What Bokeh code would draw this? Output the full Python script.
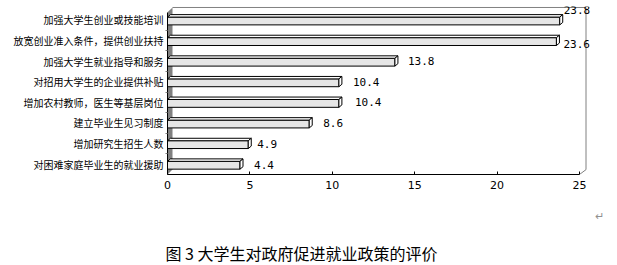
from bokeh.plotting import figure
from bokeh.models import Range1d, FixedTicker, Title, ColumnDataSource
from bokeh.embed import file_html
from bokeh.resources import INLINE
from bokeh.core.properties import value

# ---------------- data ----------------
categories = [
    "加强大学生创业或技能培训",
    "放宽创业准入条件，提供创业扶持",
    "加强大学生就业指导和服务",
    "对招用大学生的企业提供补贴",
    "增加农村教师，医生等基层岗位",
    "建立毕业生见习制度",
    "增加研究生招生人数",
    "对困难家庭毕业生的就业援助",
]
values = [23.8, 23.6, 13.8, 10.4, 10.4, 8.6, 4.9, 4.4]
x_ticks = [0, 5, 10, 15, 20, 25]
caption = "图 3 大学生对政府促进就业政策的评价"

# ---------------- style / label nudges (pixels) ----------------
label_dx = [1, 4, 10, 11, 13, 11, 6, 11]
label_dy = [-10, 3, 0, 0, 0, 0, 0, 1]

PX_X = 16.48   # pixels per x unit
PX_Y = 21.1    # pixels per category
W, H = 617, 265
ML, MR, MT, MB = 167, 27, 6, 87
XMAX = (W - ML - MR) / PX_X
Y0 = 0.5
YMAX = Y0 + (H - MT - MB) / PX_Y

n = len(categories)
ys = [n - i for i in range(n)]

p = figure(width=W, height=H, output_backend="svg", toolbar_location=None,
           x_range=Range1d(0, XMAX), y_range=Range1d(Y0, YMAX),
           min_border_left=ML, min_border_right=MR, min_border_top=MT,
           min_border_bottom=MB, background_fill_color="white",
           border_fill_color="white", outline_line_color=None)
p.grid.visible = False

# 3D wall / frame decorations (perspective depth)
wd = 5 / PX_X
wy = 5 / PX_Y
top_front = Y0 + 166 / PX_Y
top_back = Y0 + 171 / PX_Y
right_back = x_ticks[-1] + 6.5 / PX_X
p.patch([0, wd, wd, 0], [Y0, Y0 + wy, top_back, top_front],
        fill_color="#808080", line_color=None)
p.line([wd, right_back, right_back, x_ticks[-1]],
       [top_back, top_back, Y0 + wy, Y0], line_color="#808080", line_width=1)

# bars with 3D caps
h_front = 8 / PX_Y
dx = 3 / PX_X
dy = 2.5 / PX_Y
bot = [y - 0.24 for y in ys]
top = [b + h_front for b in bot]
p.quad(left=0, right=values, bottom=bot, top=top,
       fill_color="#e6e6e6", line_color="black", line_width=1)
top_xs = [[0, v, v + dx, dx] for v in values]
top_ys = [[t, t, t + dy, t + dy] for t in top]
p.patches(top_xs, top_ys, fill_color="white", line_color="black", line_width=1)
side_xs = [[v, v, v + dx, v + dx] for v in values]
side_ys = [[b, t, t + dy, b + dy] for b, t in zip(bot, top)]
p.patches(side_xs, side_ys, fill_color="white", line_color="black", line_width=1)

# value labels
src = ColumnDataSource(dict(x=values, y=ys, t=[f"{v:.1f}" for v in values],
                            xo=[d + 3 for d in label_dx], yo=label_dy))
p.text(x="x", y="y", text="t", x_offset="xo", y_offset="yo", source=src,
       text_font=value("DejaVu Sans Mono"), text_font_size="11px",
       text_baseline="middle", text_align="left", text_color="black")

# x axis
xa = p.xaxis[0]
xa.ticker = FixedTicker(ticks=x_ticks, minor_ticks=[])
xa.bounds = (x_ticks[0], x_ticks[-1])
xa.axis_line_color = "black"
xa.major_tick_in = 3
xa.major_tick_out = 0
xa.minor_tick_line_color = None
xa.major_label_standoff = 6
xa.major_label_text_font = "DejaVu Sans"
xa.major_label_text_font_size = "11px"
xa.major_label_text_color = "black"

# y axis
ya = p.yaxis[0]
ya.ticker = FixedTicker(ticks=ys, minor_ticks=[y + 0.5 for y in ys[1:]])
ya.major_label_overrides = {y: c for y, c in zip(ys, categories)}
ya.bounds = (Y0, top_front)
ya.axis_line_color = "black"
ya.major_tick_in = 0
ya.major_tick_out = 0
ya.minor_tick_in = 0
ya.minor_tick_out = 2
ya.minor_tick_line_color = "#808080"
ya.major_label_standoff = 2
ya.major_label_text_font = "Noto Sans CJK SC"
ya.major_label_text_font_size = "10px"
ya.major_label_text_color = "black"

# paragraph mark and caption
mark = Title(text="↵", align="right", offset=-14, standoff=32,
             text_font="DejaVu Sans", text_font_size="11px",
             text_font_style="normal", text_color="#909090")
cap = Title(text=caption, align="left", offset=-2, standoff=1,
            text_font="Noto Sans CJK SC", text_font_size="16px",
            text_font_style="normal", text_color="black")
p.add_layout(mark, "below")
p.add_layout(cap, "below")

open("out.html", "w").write(file_html(p, INLINE))
